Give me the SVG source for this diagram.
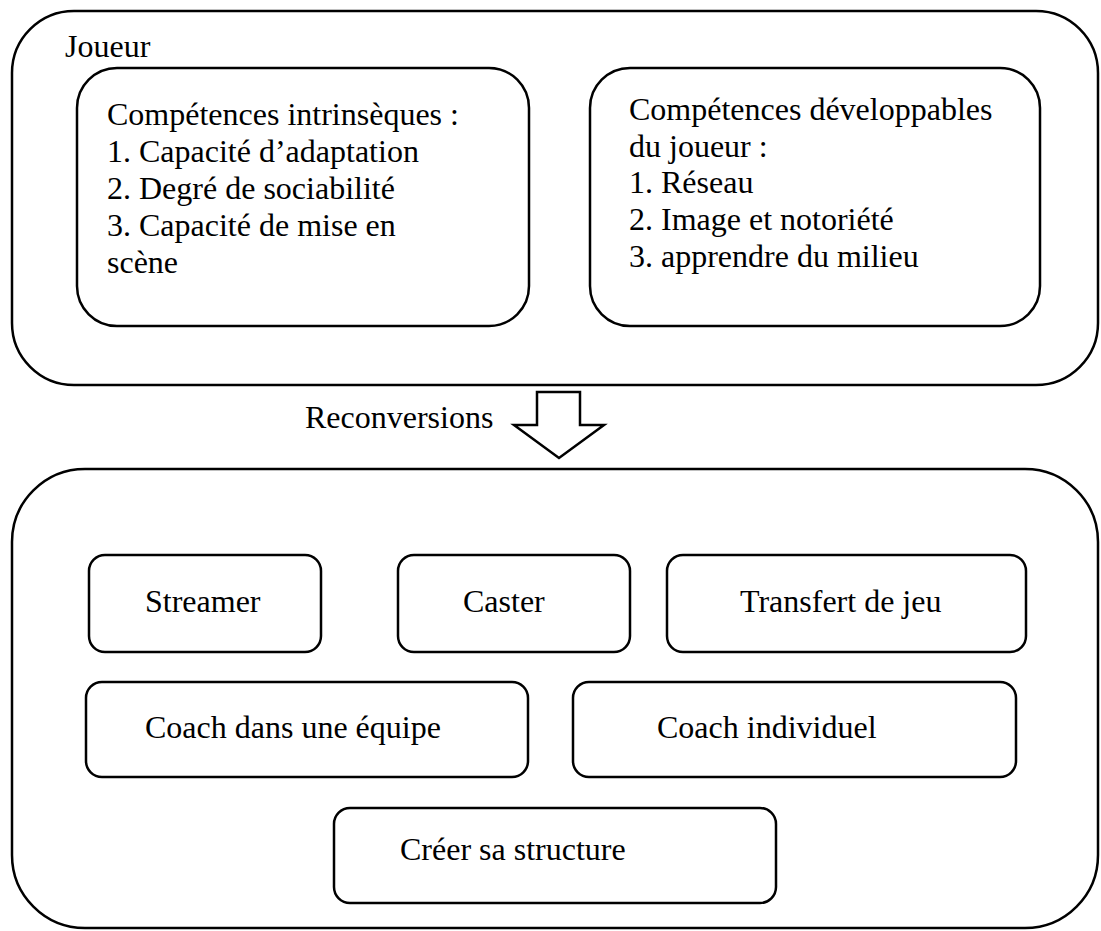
<svg xmlns="http://www.w3.org/2000/svg" width="1101" height="931" viewBox="0 0 1101 931">
<style>
.box{fill:none;stroke:#000;stroke-width:2.5}
.t{font-family:"Liberation Serif","Times New Roman",serif;font-size:32px;fill:#000}
</style>
<rect width="1101" height="931" fill="#fff"/>
<g id="joueur">
<rect class="box" x="12" y="11" width="1086" height="374" rx="62" ry="62"/>
<text class="t" x="65" y="57">Joueur</text>
</g>
<g id="intrinseques">
<rect class="box" x="77" y="68" width="452" height="258" rx="40" ry="40"/>
<text class="t"><tspan x="107" y="125">Compétences intrinsèques :</tspan><tspan x="107" y="162">1. Capacité d’adaptation</tspan><tspan x="107" y="199">2. Degré de sociabilité</tspan><tspan x="107" y="236">3. Capacité de mise en</tspan><tspan x="107" y="273">scène</tspan></text>
</g>
<g id="developpables">
<rect class="box" x="590" y="68" width="450" height="258" rx="40" ry="40"/>
<text class="t"><tspan x="629" y="120">Compétences développables</tspan><tspan x="629" y="157">du joueur :</tspan><tspan x="629" y="193">1. Réseau</tspan><tspan x="629" y="230">2. Image et notoriété</tspan><tspan x="629" y="267">3. apprendre du milieu</tspan></text>
</g>
<g id="connectors">
<polygon class="box" points="537,392 580,392 580,425 604,425 559,458 514,425 537,425"/>
<text class="t" x="305" y="428">Reconversions</text>
</g>
<g id="reconversions">
<rect class="box" x="12" y="469" width="1086" height="459" rx="73" ry="73"/>
</g>
<g id="streamer">
<rect class="box" x="89" y="555" width="232" height="97" rx="16" ry="16"/>
<text class="t" x="145" y="612">Streamer</text>
</g>
<g id="caster">
<rect class="box" x="398" y="555" width="232" height="97" rx="16" ry="16"/>
<text class="t" x="463" y="612">Caster</text>
</g>
<g id="transfert">
<rect class="box" x="667" y="555" width="359" height="97" rx="16" ry="16"/>
<text class="t" x="740" y="612">Transfert de jeu</text>
</g>
<g id="coach-equipe">
<rect class="box" x="86" y="682" width="442" height="95" rx="16" ry="16"/>
<text class="t" x="145" y="738">Coach dans une équipe</text>
</g>
<g id="coach-individuel">
<rect class="box" x="573" y="682" width="443" height="95" rx="16" ry="16"/>
<text class="t" x="657" y="738">Coach individuel</text>
</g>
<g id="creer-structure">
<rect class="box" x="334" y="808" width="442" height="95" rx="16" ry="16"/>
<text class="t" x="400" y="860">Créer sa structure</text>
</g>
</svg>
